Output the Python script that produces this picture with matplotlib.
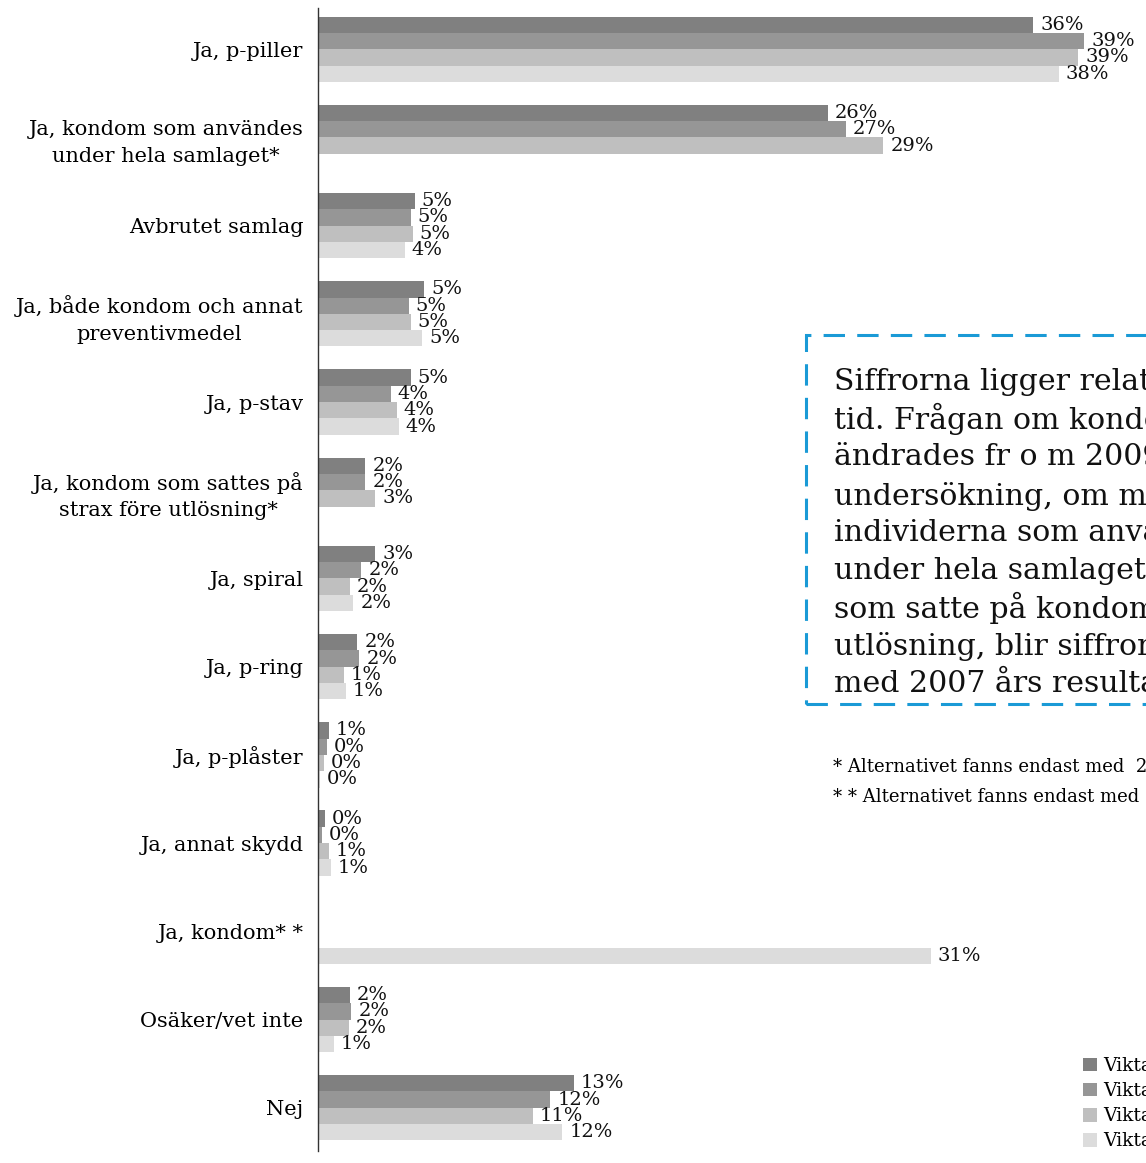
import numpy as np
import matplotlib
matplotlib.use("Agg")
import matplotlib.pyplot as plt
from matplotlib.patches import Rectangle

plt.rcParams['font.family'] = ['DejaVu Serif']

# categories, top to bottom
categories = [
    "Ja, p-piller",
    "Ja, kondom som användes\nunder hela samlaget*",
    "Avbrutet samlag",
    "Ja, både kondom och annat\npreventivmedel",
    "Ja, p-stav",
    "Ja, kondom som sattes på\nstrax före utlösning*",
    "Ja, spiral",
    "Ja, p-ring",
    "Ja, p-plåster",
    "Ja, annat skydd",
    "Ja, kondom* *",
    "Osäker/vet inte",
    "Nej",
]

# series values in percent (nan = alternative not asked that year)
nan = np.nan
serie1 = [36.3, 25.9, 4.9, 5.4, 4.7, 2.4, 2.9, 2.0, 0.55, 0.35, nan, 1.6, 13.0]
serie2 = [38.9, 26.8, 4.7, 4.6, 3.7, 2.4, 2.2, 2.1, 0.45, 0.2, nan, 1.7, 11.8]
serie3 = [38.6, 28.7, 4.8, 4.7, 4.0, 2.9, 1.6, 1.3, 0.3, 0.55, nan, 1.55, 10.9]
serie4 = [37.6, nan, 4.4, 5.3, 4.1, nan, 1.8, 1.4, 0.1, 0.65, 31.1, 0.8, 12.4]

series_names = ["Viktat 2010", "Viktat 2009", "Viktat 2008", "Viktat 2007"]
colors = ["#808080", "#969696", "#bfbfbf", "#dcdcdc"]

info_lines = [
    "Siffrorna ligger relativt stabilt över",
    "tid. Frågan om kondomanvändning",
    "ändrades fr o m 2009 års",
    "undersökning, om man slår ihop",
    "individerna som använde kondom",
    "under hela samlaget med dem",
    "som satte på kondom strax före",
    "utlösning, blir siffrorna jämförbara",
    "med 2007 års resultat.",
]
footnote1 = "* Alternativet fanns endast med  2009 och 2010"
footnote2 = "* * Alternativet fanns endast med 2007"

W, H = 1146, 1163
fig = plt.figure(figsize=(W / 100, H / 100), dpi=100)
ax = fig.add_axes([318 / W, 1 - 1151 / H, 1 - 318 / W, (1151 - 8) / H])

y = np.arange(len(categories))
bh = 0.185
all_series = [serie1, serie2, serie3, serie4]
for i, (vals, col, name) in enumerate(zip(all_series, colors, series_names)):
    vals = np.array(vals, dtype=float)
    pos = y + (i - 1.5) * bh
    ax.barh(pos, np.nan_to_num(vals), height=bh, color=col, label=name)
    for p, v in zip(pos, vals):
        if np.isnan(v):
            continue
        ax.annotate(f"{int(v + 0.5)}%", xy=(v, p), xytext=(5, 0),
                    textcoords="offset points", va="center", ha="left",
                    fontsize=14, color="#111111")

ax.set_xlim(0, (W - 318) / 19.7)
ax.set_ylim(12.49, -0.467)
ax.set_yticks(y)
ax.set_yticklabels(categories, fontsize=15, linespacing=1.5)
for lbl in ax.get_yticklabels():
    lbl.set_multialignment("center")
ax.tick_params(axis="y", length=0, pad=10.5)
ax.set_xticks([])
for s in ["top", "right", "bottom"]:
    ax.spines[s].set_visible(False)
ax.spines["left"].set_color("#333333")
ax.spines["left"].set_linewidth(1)

# dashed info box
box = Rectangle((806 / W, 1 - 704 / H), 0.4, (704 - 335) / H,
                transform=fig.transFigure, fill=False, edgecolor="#1a9ad6",
                linewidth=2.2, linestyle=(0, (7, 4)))
fig.patches.append(box)
for k, line in enumerate(info_lines):
    fig.text(834 / W, 1 - (381 + k * 37.9) / H, line, fontsize=21.6,
             va="center", ha="left", color="#111111")

fig.text(833 / W, 1 - 767 / H, footnote1, fontsize=13, va="center", ha="left")
fig.text(833 / W, 1 - 797 / H, footnote2, fontsize=13, va="center", ha="left")

fig.legend(loc="upper left", bbox_to_anchor=(1083 / W, 1 - 1057 / H),
           frameon=False, fontsize=13.5, handlelength=0.75, handleheight=0.75,
           handletextpad=0.35, labelspacing=0.38, borderpad=0, borderaxespad=0)

fig.savefig("out.png", dpi=100)
